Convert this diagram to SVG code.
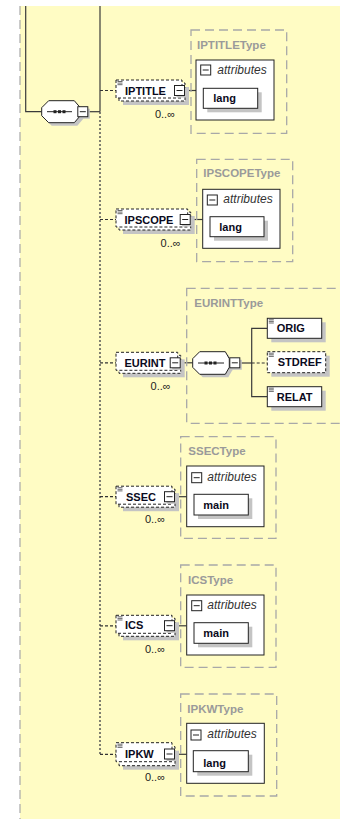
<svg xmlns="http://www.w3.org/2000/svg" width="340" height="819" viewBox="0 0 340 819">
<defs>
<style>
.bg{fill:#FFFCC4}
.ln{stroke:#3a3a3a;stroke-width:1.2;fill:none}
.dot{stroke:#555;stroke-width:1.5;fill:none;stroke-dasharray:2,2}
.dsh{stroke:#333;stroke-width:1.2;fill:none;stroke-dasharray:3,2}
.tbox{fill:none;stroke:#A8A8A8;stroke-width:1.3;stroke-dasharray:9,5}
.ttl{font-family:"Liberation Sans",Arial,sans-serif;font-weight:bold;font-size:11.5px;fill:#9a9a9a}
.nm{font-family:"Liberation Sans",Arial,sans-serif;font-weight:bold;font-size:11px;fill:#0a0a20}
.at{font-family:"Liberation Sans",Arial,sans-serif;font-style:italic;font-size:12px;fill:#333}
.oc{font-family:"Liberation Sans",Arial,sans-serif;font-size:11px;fill:#222}
.wb{fill:#fff;stroke:#222;stroke-width:1}
.eb{fill:#fff;stroke:#222;stroke-width:1;stroke-dasharray:3,2}
.sh{fill:#c4c4c4}
.mb{fill:#fff;stroke:#222;stroke-width:1}
.ico{stroke:#444;stroke-width:0.8}
</style>
<g id="minus">
<rect class="sh" x="2" y="2" width="10" height="10"/>
<rect class="mb" x="0" y="0" width="10" height="10"/>
<line x1="2" y1="5" x2="8" y2="5" stroke="#222" stroke-width="1"/>
</g>
<g id="textico">
<line class="ico" x1="0" y1="0" x2="5" y2="0"/>
<line class="ico" x1="0" y1="1.6" x2="5" y2="1.6"/>
<line class="ico" x1="0" y1="3.2" x2="5" y2="3.2"/>
</g>
</defs>
<rect x="0" y="0" width="340" height="819" fill="#fff"/>
<rect class="bg" x="20" y="6" width="320" height="813"/>
<line x1="20" y1="6" x2="20" y2="819" stroke="#A8A8A8" stroke-width="1.2" stroke-dasharray="9,5"/>

<g id="connectors">
<polyline class="ln" points="25.7,6 25.7,111.7 41.7,111.7"/>
<line class="ln" x1="100" y1="6" x2="100" y2="111.7"/>
<line class="ln" x1="88" y1="111.7" x2="100" y2="111.7"/>
<line class="dot" x1="100" y1="112" x2="100" y2="754.3"/>
<line class="dsh" x1="100" y1="90.5" x2="116" y2="90.5"/>
<line class="dsh" x1="100" y1="219.5" x2="116" y2="219.5"/>
<line class="dsh" x1="100" y1="362.8" x2="116" y2="362.8"/>
<line class="dsh" x1="100" y1="496.7" x2="116" y2="496.7"/>
<line class="dsh" x1="100" y1="625.8" x2="116" y2="625.8"/>
<line class="dsh" x1="100" y1="754.3" x2="116" y2="754.3"/>
<line class="ln" x1="185" y1="90.5" x2="196" y2="90.5"/>
<line class="ln" x1="190.7" y1="219.5" x2="202.7" y2="219.5"/>
<line class="ln" x1="180.7" y1="362.8" x2="192.7" y2="362.8"/>
<line class="ln" x1="175" y1="496.7" x2="186.7" y2="496.7"/>
<line class="ln" x1="175" y1="625.8" x2="186.7" y2="625.8"/>
<line class="ln" x1="175" y1="754.3" x2="186.7" y2="754.3"/>
<line class="ln" x1="240" y1="363" x2="251.7" y2="363"/>
<polyline class="ln" points="267.3,328.3 251.7,328.3 251.7,396.7 267.3,396.7"/>
<line class="dsh" x1="251.7" y1="363" x2="267.3" y2="363"/>
</g>

<g id="seq1">
<polygon class="sh" points="51.7,103.7 77.3,103.7 83.3,110.7 83.3,118.7 77.3,125.7 51.7,125.7 44.7,118.7 44.7,110.7"/>
<polygon class="wb" points="48.7,100.7 74.3,100.7 80.3,107.7 80.3,115.7 74.3,122.7 48.7,122.7 41.7,115.7 41.7,107.7"/>
<line x1="47" y1="111.7" x2="72" y2="111.7" stroke="#222" stroke-width="1"/>
<rect x="53.5" y="110.2" width="3" height="3" fill="#222"/>
<rect x="58" y="110.2" width="3" height="3" fill="#222"/>
<rect x="62.5" y="110.2" width="3" height="3" fill="#222"/>
<use href="#minus" x="77.8" y="106.7"/>
</g>

<g id="IPTITLE">
<rect class="sh" x="123" y="87" width="66" height="18"/>
<rect class="eb" x="119" y="83" width="66" height="18"/>
<rect class="eb" x="116" y="80" width="66" height="18"/>
<use href="#textico" x="117.5" y="81.5"/>
<text class="nm" x="125" y="94.5">IPTITLE</text>
<use href="#minus" x="174.5" y="85.5"/>
<text class="oc" x="175" y="118" text-anchor="end">0..∞</text>
</g>
<g id="IPTITLEType">
<rect class="tbox" x="191" y="30" width="95.7" height="103.3"/>
<text class="ttl" x="197" y="49">IPTITLEType</text>
<rect class="wb" x="196" y="60" width="78" height="60"/>
<rect class="mb" x="200.7" y="65" width="10" height="10"/>
<line x1="202.7" y1="70" x2="208.7" y2="70" stroke="#222"/>
<text class="at" x="217.3" y="74">attributes</text>
<rect class="sh" x="207.3" y="92.3" width="54.4" height="20"/>
<rect class="wb" x="203.3" y="88.3" width="54.4" height="20"/>
<text class="nm" x="213.3" y="102">lang</text>
</g>

<g id="IPSCOPE">
<rect class="sh" x="123" y="216" width="71.7" height="18"/>
<rect class="eb" x="119" y="212" width="71.7" height="18"/>
<rect class="eb" x="116" y="209" width="71.7" height="18"/>
<use href="#textico" x="117.5" y="210.5"/>
<text class="nm" x="124.5" y="223.5">IPSCOPE</text>
<use href="#minus" x="180.2" y="214.5"/>
<text class="oc" x="180.7" y="246.7" text-anchor="end">0..∞</text>
</g>
<g id="IPSCOPEType">
<rect class="tbox" x="196.7" y="159.3" width="96" height="102.4"/>
<text class="ttl" x="203.3" y="177.3">IPSCOPEType</text>
<rect class="wb" x="202.7" y="189.3" width="77.3" height="59"/>
<rect class="mb" x="207.3" y="195" width="10" height="10"/>
<line x1="209.3" y1="200" x2="215.3" y2="200" stroke="#222"/>
<text class="at" x="223.3" y="203.3">attributes</text>
<rect class="sh" x="214" y="220.7" width="54" height="20"/>
<rect class="wb" x="210" y="216.7" width="54" height="20"/>
<text class="nm" x="219.3" y="231.3">lang</text>
</g>

<g id="EURINT">
<rect class="sh" x="123" y="359.3" width="61.7" height="18"/>
<rect class="eb" x="119" y="355.3" width="61.7" height="18"/>
<rect class="eb" x="116" y="352.3" width="61.7" height="18"/>
<text class="nm" x="124.5" y="366.8">EURINT</text>
<use href="#minus" x="170.2" y="357.8"/>
<text class="oc" x="170.7" y="390" text-anchor="end">0..∞</text>
</g>
<g id="EURINTType">
<rect class="tbox" x="186.7" y="288.3" width="170" height="135"/>
<text class="ttl" x="194.3" y="306.7">EURINTType</text>
</g>
<g id="seq2">
<polygon class="sh" points="202.7,354.7 228.3,354.7 232.3,361.7 232.3,370.3 228.3,377.3 202.7,377.3 195.7,370.3 195.7,361.7"/>
<polygon class="wb" points="199.7,351.7 225.3,351.7 229.3,358.7 229.3,367.3 225.3,374.3 199.7,374.3 192.7,367.3 192.7,358.7"/>
<line x1="198" y1="363" x2="224" y2="363" stroke="#222" stroke-width="1"/>
<rect x="204.5" y="361.5" width="3" height="3" fill="#222"/>
<rect x="209" y="361.5" width="3" height="3" fill="#222"/>
<rect x="213.5" y="361.5" width="3" height="3" fill="#222"/>
<use href="#minus" x="229.8" y="357.8"/>
</g>
<g id="ORIG">
<rect class="sh" x="271.3" y="322.3" width="54.4" height="20"/>
<rect class="wb" x="267.3" y="318.3" width="54.4" height="20"/>
<use href="#textico" x="268.8" y="319.8"/>
<text class="nm" x="276.7" y="332">ORIG</text>
</g>
<g id="STDREF">
<rect class="sh" x="271.3" y="355.7" width="58.4" height="21"/>
<rect class="eb" x="267.3" y="351.7" width="58.4" height="21"/>
<use href="#textico" x="268.8" y="353.2"/>
<text class="nm" x="277.7" y="366.3">STDREF</text>
</g>
<g id="RELAT">
<rect class="sh" x="271.3" y="390.7" width="54.4" height="20"/>
<rect class="wb" x="267.3" y="386.7" width="54.4" height="20"/>
<use href="#textico" x="268.8" y="388.2"/>
<text class="nm" x="276.7" y="400.5">RELAT</text>
</g>

<g id="SSEC">
<rect class="sh" x="123" y="493.2" width="56" height="18"/>
<rect class="eb" x="119" y="489.2" width="56" height="18"/>
<rect class="eb" x="116" y="486.2" width="56" height="18"/>
<use href="#textico" x="117.5" y="487.7"/>
<text class="nm" x="126" y="500.5">SSEC</text>
<use href="#minus" x="164.5" y="491.7"/>
<text class="oc" x="165" y="523.3" text-anchor="end">0..∞</text>
</g>
<g id="SSECType">
<rect class="tbox" x="180.7" y="436.7" width="95.3" height="101.6"/>
<text class="ttl" x="188.3" y="455">SSECType</text>
<rect class="wb" x="186.7" y="466" width="77.3" height="60.7"/>
<rect class="mb" x="191.7" y="472.7" width="10" height="10"/>
<line x1="193.7" y1="477.7" x2="199.7" y2="477.7" stroke="#222"/>
<text class="at" x="207.3" y="480.7">attributes</text>
<rect class="sh" x="198" y="498.3" width="54.3" height="20.7"/>
<rect class="wb" x="194" y="494.3" width="54.3" height="20.7"/>
<text class="nm" x="203.3" y="508.5">main</text>
</g>

<g id="ICS">
<rect class="sh" x="123" y="622.3" width="56" height="18"/>
<rect class="eb" x="119" y="618.3" width="56" height="18"/>
<rect class="eb" x="116" y="615.3" width="56" height="18"/>
<use href="#textico" x="117.5" y="616.8"/>
<text class="nm" x="125" y="629.3">ICS</text>
<use href="#minus" x="164.5" y="620.7"/>
<text class="oc" x="165" y="652.7" text-anchor="end">0..∞</text>
</g>
<g id="ICSType">
<rect class="tbox" x="180.7" y="565" width="95.3" height="102.3"/>
<text class="ttl" x="188" y="584">ICSType</text>
<rect class="wb" x="186.7" y="595" width="77.3" height="60"/>
<rect class="mb" x="191.7" y="600.7" width="10" height="10"/>
<line x1="193.7" y1="605.7" x2="199.7" y2="605.7" stroke="#222"/>
<text class="at" x="207.3" y="609.3">attributes</text>
<rect class="sh" x="198" y="626.7" width="54.3" height="20.6"/>
<rect class="wb" x="194" y="622.7" width="54.3" height="20.6"/>
<text class="nm" x="203.3" y="637">main</text>
</g>

<g id="IPKW">
<rect class="sh" x="123" y="750.7" width="56" height="19"/>
<rect class="eb" x="119" y="746.7" width="56" height="19"/>
<rect class="eb" x="116" y="742.7" width="56" height="19"/>
<use href="#textico" x="117.5" y="744.2"/>
<text class="nm" x="125" y="757.5">IPKW</text>
<use href="#minus" x="164.5" y="749"/>
<text class="oc" x="165" y="780.7" text-anchor="end">0..∞</text>
</g>
<g id="IPKWType">
<rect class="tbox" x="180.7" y="694" width="96" height="102"/>
<text class="ttl" x="187.3" y="712.7">IPKWType</text>
<rect class="wb" x="186.7" y="723.3" width="77.6" height="60"/>
<rect class="mb" x="191" y="730" width="10" height="10"/>
<line x1="193" y1="735" x2="199" y2="735" stroke="#222"/>
<text class="at" x="207.3" y="738.3">attributes</text>
<rect class="sh" x="197.3" y="754.7" width="55" height="21"/>
<rect class="wb" x="193.3" y="750.7" width="55" height="21"/>
<text class="nm" x="203.3" y="766.5">lang</text>
</g>
</svg>
